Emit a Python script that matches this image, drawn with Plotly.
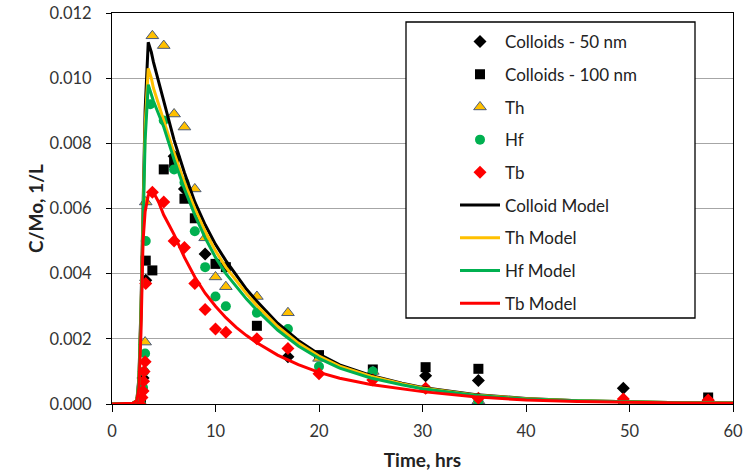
import plotly.graph_objects as go

# ---------------- data ----------------
c50_t = [2.7, 3.0, 3.26, 6.0, 7.0, 9.0, 17.0, 30.3, 35.4, 49.4, 57.6]
c50_y = [0.0, 0.0008, 0.0038, 0.0076, 0.0066, 0.0046, 0.00145, 0.00087, 0.00072, 0.00048, 0.0001]

c100_t = [2.8, 3.26, 3.9, 5.0, 6.0, 7.0, 8.0, 10.0, 11.0, 14.0, 20.0, 25.2, 30.3, 35.4, 49.4, 57.6]
c100_y = [0.0, 0.0044, 0.0041, 0.0072, 0.0074, 0.0063, 0.0057, 0.0043, 0.0042, 0.0024, 0.0015, 0.00106, 0.00113, 0.00108, 0.0, 0.0002]

th_t = [2.8, 3.2, 3.26, 3.9, 5.0, 6.0, 7.0, 8.0, 9.0, 10.0, 11.0, 14.0, 17.0, 20.0, 25.2, 30.3, 35.4, 49.4, 57.6]
th_y = [0.0, 0.0019, 0.0062, 0.0113, 0.0110, 0.0089, 0.0085, 0.0066, 0.0051, 0.0039, 0.0036, 0.0033, 0.0028, 0.0014, 0.0010, 0.0005, 0.0001, 0.0, 0.0]

hf_t = [2.8, 3.0, 3.1, 3.2, 3.26, 3.7, 5.0, 6.0, 7.0, 8.0, 9.0, 10.0, 11.0, 14.0, 17.0, 20.0, 25.2, 30.3, 35.4, 49.4, 57.6]
hf_y = [0.0, 0.0005, 0.0010, 0.00155, 0.0050, 0.0092, 0.0087, 0.0072, 0.0068, 0.0053, 0.0042, 0.0033, 0.0030, 0.0028, 0.0023, 0.00115, 0.0010, 0.00047, 0.0001, 0.0001, 0.0]

tb_t = [2.7, 2.9, 3.0, 3.05, 3.1, 3.2, 3.26, 3.9, 5.0, 6.0, 7.0, 8.0, 9.0, 10.0, 11.0, 14.0, 17.0, 20.0, 25.2, 30.3, 35.4, 49.4, 57.6]
tb_y = [0.0, 0.0002, 0.0004, 0.0007, 0.0010, 0.0013, 0.0037, 0.0065, 0.0062, 0.0050, 0.0048, 0.0037, 0.0029, 0.0023, 0.0022, 0.0020, 0.0017, 0.00093, 0.00074, 0.00048, 0.00018, 0.00015, 0.00012]

model_t = [0, 1, 2, 2.4, 2.6, 2.8, 3.0, 3.2, 3.5, 3.8, 4, 4.5, 5, 5.5, 6, 7, 8, 9, 10, 11, 12, 13, 14,
           16, 18, 20, 22, 25, 28, 30, 35, 40, 45, 50, 55, 60]
colloid_model = [0, 0, 0.00002, 0.0001, 0.0008, 0.0030, 0.0062, 0.0090, 0.0111, 0.0108, 0.0105, 0.0099,
                 0.0093, 0.0087, 0.0081, 0.0071, 0.0062, 0.0055, 0.0049, 0.0044, 0.00395, 0.00352, 0.00315,
                 0.00248, 0.00195, 0.00153, 0.0012, 0.00088, 0.00064, 0.00051, 0.00029, 0.00017, 0.0001,
                 0.00006, 0.00004, 0.00003]
th_model = [0, 0, 0.00002, 0.0001, 0.0007, 0.0028, 0.0058, 0.0085, 0.0103, 0.0100, 0.0097, 0.0092,
            0.0087, 0.0082, 0.0077, 0.0068, 0.0060, 0.0053, 0.0047, 0.0042, 0.00378, 0.00338, 0.00302,
            0.00238, 0.00187, 0.00147, 0.00116, 0.00085, 0.00062, 0.00049, 0.00028, 0.00016, 0.0001,
            0.00006, 0.00004, 0.00003]
hf_model = [0, 0, 0.00002, 0.0001, 0.0007, 0.0027, 0.0056, 0.0081, 0.0098, 0.0095, 0.0093, 0.0089,
            0.0085, 0.0080, 0.0075, 0.0066, 0.0058, 0.0051, 0.0045, 0.0040, 0.0036, 0.00322, 0.00288,
            0.00227, 0.00178, 0.0014, 0.0011, 0.0008, 0.00059, 0.00047, 0.00027, 0.00015, 0.0001,
            0.00006, 0.00004, 0.00003]
tb_model = [0, 0, 0.00002, 0.0001, 0.0005, 0.0022, 0.0050, 0.0059, 0.0064, 0.0065, 0.0065, 0.0062,
            0.0058, 0.0055, 0.0052, 0.0045, 0.0039, 0.0034, 0.0030, 0.00265, 0.00235, 0.0021, 0.00188,
            0.0015, 0.00121, 0.00097, 0.00079, 0.0006, 0.00046, 0.00038, 0.00022, 0.00012, 0.00008,
            0.00005, 0.00003, 0.00002]

x_ticks = [0, 10, 20, 30, 40, 50, 60]
y_ticks = [0.000, 0.002, 0.004, 0.006, 0.008, 0.010, 0.012]

# ---------------- layout geometry (pixels) ----------------
W, H = 754, 472
L, R, T, B = 112, 21, 13, 68
PW, PH = W - L - R, H - T - B

def px_x(p):
    return (p - L) / PW

def px_y(p):
    return (H - B - p) / PH

FONT = "Lato"
fig = go.Figure()

def marker_trace(t, y, name, symbol, color, size, line_color=None, line_width=0, group=""):
    fig.add_trace(go.Scatter(
        x=t, y=y, mode="markers", name=name, legendgroup=group,
        marker=dict(symbol=symbol, color=color, size=size,
                    line=dict(color=line_color or color, width=line_width))))

marker_trace(c50_t, c50_y, "Colloids - 50 nm", "diamond", "#000000", 10, group="a")
marker_trace(c100_t, c100_y, "Colloids - 100 nm", "square", "#000000", 10, group="b")
marker_trace(th_t, th_y, "Th", "triangle-up", "#FFC000", 11, "#4A5A7A", 1, group="c")
marker_trace(hf_t, hf_y, "Hf", "circle", "#00B050", 10, group="d")
marker_trace(tb_t, tb_y, "Tb", "diamond", "#FF0000", 10, group="e")

def line_trace(y, name, color, group):
    fig.add_trace(go.Scatter(x=model_t, y=y, mode="lines", name=name, legendgroup=group,
                             line=dict(color=color, width=3)))

line_trace(colloid_model, "Colloid Model", "#000000", "f")
line_trace(th_model, "Th Model", "#FFC000", "g")
line_trace(hf_model, "Hf Model", "#00B050", "h")
line_trace(tb_model, "Tb Model", "#FF0000", "i")

# legend frame
fig.add_shape(type="rect", xref="paper", yref="paper",
              x0=px_x(406), x1=px_x(695), y0=px_y(318), y1=px_y(22),
              line=dict(color="#000000", width=1.3), fillcolor="white", layer="above")

fig.update_layout(
    width=W, height=H,
    margin=dict(l=L, r=R, t=T, b=B),
    paper_bgcolor="white", plot_bgcolor="white",
    font=dict(family=FONT, color="#222222"),
    showlegend=True,
    legend=dict(x=px_x(455), y=px_y(24), xanchor="left", yanchor="top",
                bgcolor="rgba(0,0,0,0)", borderwidth=0, traceorder="grouped",
                tracegroupgap=7.6, itemwidth=40,
                font=dict(family=FONT, size=17, color="#222222")),
    xaxis=dict(range=[0, 60], tickvals=x_ticks, ticktext=[str(v) for v in x_ticks],
               automargin=False,
               showgrid=False, zeroline=False, showline=True, linecolor="#000000", linewidth=1,
               mirror=True, ticks="outside", ticklen=7, tickcolor="#000000",
               ticklabelstandoff=5,
               tickfont=dict(family=FONT, size=16.5, color="#333333"),
               title=dict(text="<b>Time, hrs</b>", font=dict(family=FONT, size=19, color="#222222"),
                          standoff=13)),
    yaxis=dict(range=[0, 0.012], tickvals=y_ticks, ticktext=[f"{v:.3f}" for v in y_ticks],
               automargin=False,
               showgrid=True, gridcolor="#A6A6A6", gridwidth=1, zeroline=False,
               showline=True, linecolor="#000000", linewidth=1, mirror=True,
               ticks="outside", ticklen=5, tickcolor="#000000", ticklabelstandoff=11,
               tickfont=dict(family=FONT, size=16.5, color="#333333"),
               title=dict(text="<b>C/Mo, 1/L</b>", font=dict(family=FONT, size=19, color="#222222"),
                          standoff=0)),
)

fig.write_html("out.html", config={"displayModeBar": False},
               post_script="document.body.style.margin='0px';")
